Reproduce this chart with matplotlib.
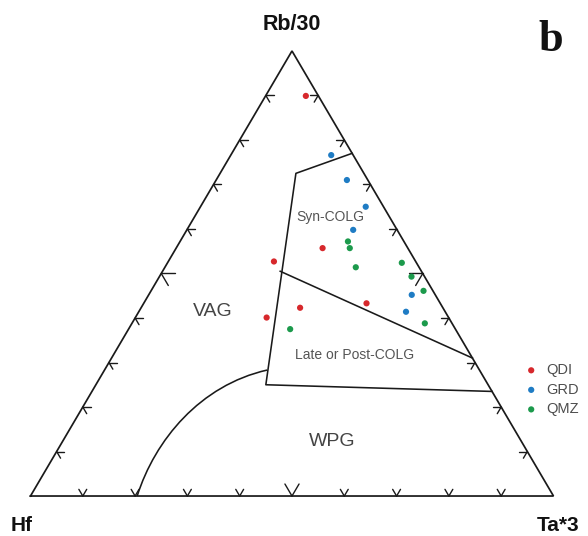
import numpy as np
import matplotlib.pyplot as plt
from matplotlib.path import Path
from matplotlib.patches import PathPatch

# ternary compositions (Hf, Rb/30, Ta*3)
qdi_hf = [0.024, 0.163, 0.271, 0.141, 0.273, 0.348]
qdi_rb = [0.899, 0.557, 0.527, 0.433, 0.423, 0.401]
qdi_ta = [0.077, 0.280, 0.202, 0.426, 0.304, 0.251]

grd_hf = [0.042, 0.040, 0.034, 0.084, 0.045, 0.075]
grd_rb = [0.766, 0.710, 0.650, 0.598, 0.452, 0.414]
grd_ta = [0.192, 0.250, 0.316, 0.318, 0.503, 0.511]

qmz_hf = [0.107, 0.111, 0.121, 0.028, 0.025, 0.018, 0.316, 0.052]
qmz_rb = [0.572, 0.557, 0.514, 0.524, 0.493, 0.461, 0.375, 0.388]
qmz_ta = [0.321, 0.332, 0.365, 0.448, 0.482, 0.521, 0.309, 0.560]

# field boundaries
colg_hf = [0.000, 0.130, 0.425, 0.000]
colg_rb = [0.770, 0.725, 0.250, 0.235]
colg_ta = [0.230, 0.145, 0.325, 0.765]

split_hf = [0.270, 0.000]
split_rb = [0.505, 0.310]
split_ta = [0.225, 0.690]

# WPG curve: start, two bezier control points, end
wpg_hf = [0.796, 0.699, 0.551, 0.406]
wpg_rb = [0.000, 0.126, 0.249, 0.283]
wpg_ta = [0.204, 0.175, 0.200, 0.311]

tick_fracs = [0.1, 0.2, 0.3, 0.4, 0.5, 0.6, 0.7, 0.8, 0.9]

H = np.sqrt(3) / 2


def tern(hf, rb, ta):
    hf = np.asarray(hf, float)
    rb = np.asarray(rb, float)
    ta = np.asarray(ta, float)
    s = hf + rb + ta
    rb = rb / s
    ta = ta / s
    return ta + rb / 2, rb * H


def draw_ticks(ax):
    # chevrons on each edge, arms parallel to the two other edges
    for k in range(3):
        for f in tick_fracs:
            p = np.zeros(3)
            others = [i for i in range(3) if i != k]
            p[others[0]] = 1 - f
            p[others[1]] = f
            L = 0.027 if abs(f - 0.5) < 1e-9 else 0.015
            for j in others:
                q = p.copy()
                q[k] += L
                q[j] -= L
                x, y = tern([p[0], q[0]], [p[1], q[1]], [p[2], q[2]])
                ax.plot(x, y, color='#1a1a1a', lw=1.0, solid_capstyle='round')


fig = plt.figure(figsize=(5.88, 5.36), dpi=100)
ax = fig.add_axes([0, 0, 1, 1])
ax.set_xlim(-0.0583, 1.066)
ax.set_ylim(-0.0778, 0.9652)
ax.axis('off')

# triangle frame
x, y = tern([1, 0, 0, 1], [0, 1, 0, 0], [0, 0, 1, 0])
ax.plot(x, y, color='#1a1a1a', lw=1.25, solid_joinstyle='miter')
draw_ticks(ax)

for hf, rb, ta in [(colg_hf, colg_rb, colg_ta), (split_hf, split_rb, split_ta)]:
    x, y = tern(hf, rb, ta)
    ax.plot(x, y, color='#1a1a1a', lw=1.15)

x, y = tern(wpg_hf, wpg_rb, wpg_ta)
curve = Path(np.column_stack([x, y]), [Path.MOVETO, Path.CURVE4, Path.CURVE4, Path.CURVE4])
ax.add_patch(PathPatch(curve, facecolor='none', edgecolor='#1a1a1a', lw=1.15))

groups = [('QDI', qdi_hf, qdi_rb, qdi_ta, '#d7282c'),
          ('GRD', grd_hf, grd_rb, grd_ta, '#1f7cc4'),
          ('QMZ', qmz_hf, qmz_rb, qmz_ta, '#1c9a4c')]
for name, hf, rb, ta, c in groups:
    x, y = tern(hf, rb, ta)
    ax.scatter(x, y, s=20, color=c, edgecolors='none', label=name, zorder=3)

lab = dict(family='Liberation Sans', ha='center', va='center')
ax.text(0.5, 0.9166, 'Rb/30', fontsize=15.5, fontweight='bold', color='#111111', **lab)
ax.text(-0.016, -0.057, 'Hf', fontsize=15, fontweight='bold', color='#111111', **lab)
ax.text(1.008, -0.057, 'Ta*3', fontsize=15, fontweight='bold', color='#111111', **lab)
ax.text(0.995, 0.887, 'b', fontsize=32, fontweight='bold', family='Liberation Serif',
        ha='center', va='center', color='#111111')

ax.text(0.348, 0.360, 'VAG', fontsize=14, color='#444444', **lab)
ax.text(0.5765, 0.1057, 'WPG', fontsize=14, color='#444444', **lab)
ax.text(0.6195, 0.2744, 'Late or Post-COLG', fontsize=10, color='#555555', **lab)
ax.text(0.5727, 0.5430, 'Syn-COLG', fontsize=10, color='#555555', **lab)

leg = ax.legend(loc='upper left', bbox_to_anchor=(0.891, 0.3225), frameon=False,
                borderpad=0, borderaxespad=0, handlelength=1.0, handletextpad=0.5,
                labelspacing=0.38, prop={'family': 'Liberation Sans', 'size': 10.5})
for t in leg.get_texts():
    t.set_color('#4d4d4d')

plt.savefig('out.png', dpi=100)
